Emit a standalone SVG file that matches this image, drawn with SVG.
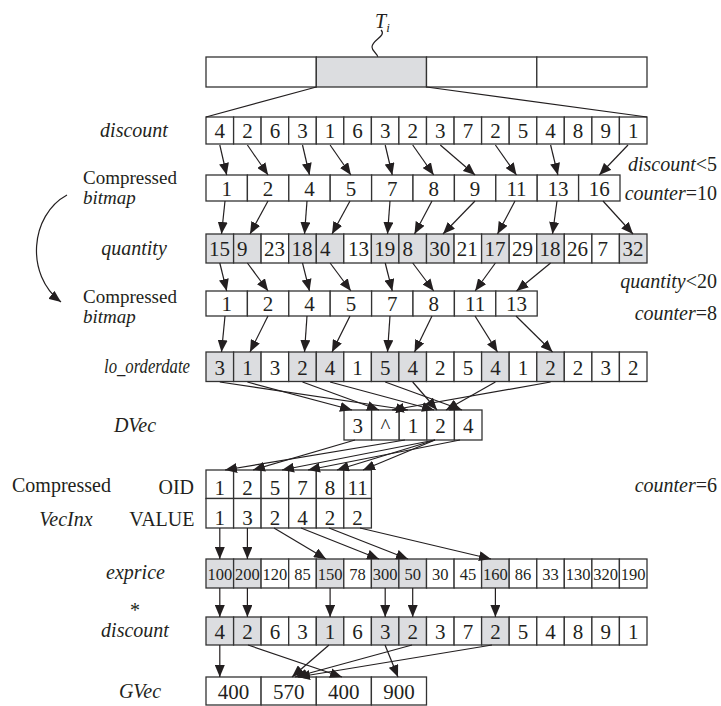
<svg xmlns="http://www.w3.org/2000/svg" width="721" height="706" viewBox="0 0 721 706">
<style>
.c{fill:#fff;stroke:#333;stroke-width:1.3}
.g{fill:#dcdde0;stroke:#333;stroke-width:1.3}
.n{font-family:"Liberation Serif","Times New Roman",serif;font-size:21px;fill:#231f20;text-anchor:middle}
.s{font-family:"Liberation Serif","Times New Roman",serif;font-size:21px;fill:#231f20}
.e{font-family:"Liberation Serif","Times New Roman",serif;font-size:16.5px;fill:#231f20;text-anchor:middle}
.t{font-family:"Liberation Serif","Times New Roman",serif;font-size:20px;fill:#231f20}
.cb{font-size:19px}
.i{font-style:italic}
.a{stroke:#231f20;stroke-width:1.2;fill:none;marker-end:url(#ah)}
.p{stroke:#231f20;stroke-width:1.2;fill:none}
</style>
<defs>
<marker id="ah" markerUnits="userSpaceOnUse" markerWidth="12" markerHeight="10" viewBox="0 0 12 10" refX="12" refY="5" orient="auto">
<path d="M0,0 L12,5 L0,10 z" fill="#231f20"/>
</marker>
</defs>
<rect width="721" height="706" fill="#fff"/>

<g id="ti">
<text class="t i" x="375" y="28" font-size="21">T<tspan font-size="13" dy="4">i</tspan></text>
<path class="p" d="M381 30 C387 36,372 40,372 47 C372 52,378 53,378 58"/>
</g>

<g id="table">
<rect class="c" x="206" y="57" width="110.3" height="30"/>
<rect class="g" x="316.3" y="57" width="110.2" height="30"/>
<rect class="c" x="426.5" y="57" width="110.3" height="30"/>
<rect class="c" x="536.8" y="57" width="110.2" height="30"/>
</g>

<g id="labels-left">
<text class="t i" x="134" y="137" text-anchor="middle">discount</text>
<text class="t cb" x="83" y="184">Compressed</text>
<text class="t cb i" x="83" y="204">bitmap</text>
<text class="t i" x="134" y="255" text-anchor="middle">quantity</text>
<text class="t cb" x="83" y="303">Compressed</text>
<text class="t cb i" x="83" y="323">bitmap</text>
<text class="t i" x="147" y="373" text-anchor="middle" textLength="86" lengthAdjust="spacingAndGlyphs">lo_orderdate</text>
<text class="t i" x="135" y="432" text-anchor="middle">DVec</text>
<text class="t" x="12" y="492">Compressed</text>
<text class="t" x="194" y="494" text-anchor="end">OID</text>
<text class="t i" x="66" y="526" text-anchor="middle">VecInx</text>
<text class="t" x="194.5" y="526" text-anchor="end">VALUE</text>
<text class="t i" x="135.5" y="579" text-anchor="middle">exprice</text>
<text class="t" x="135" y="617" text-anchor="middle">*</text>
<text class="t i" x="135" y="637" text-anchor="middle">discount</text>
<text class="t i" x="140" y="698" text-anchor="middle">GVec</text>
</g>

<g id="labels-right">
<text class="t" x="717" y="171" text-anchor="end"><tspan class="i">discount</tspan>&lt;5</text>
<text class="t" x="717" y="200" text-anchor="end"><tspan class="i">counter</tspan>=10</text>
<text class="t" x="717" y="288" text-anchor="end"><tspan class="i">quantity</tspan>&lt;20</text>
<text class="t" x="717" y="320" text-anchor="end"><tspan class="i">counter</tspan>=8</text>
<text class="t" x="717" y="492" text-anchor="end"><tspan class="i">counter</tspan>=6</text>
</g>

<g id="discount">
<rect class="c" x="206" y="117" width="27.6" height="27"/><rect class="c" x="233.6" y="117" width="27.5" height="27"/><rect class="c" x="261.1" y="117" width="27.6" height="27"/><rect class="c" x="288.7" y="117" width="27.6" height="27"/><rect class="c" x="316.3" y="117" width="27.5" height="27"/><rect class="c" x="343.8" y="117" width="27.6" height="27"/><rect class="c" x="371.4" y="117" width="27.5" height="27"/><rect class="c" x="398.9" y="117" width="27.6" height="27"/><rect class="c" x="426.5" y="117" width="27.6" height="27"/><rect class="c" x="454.1" y="117" width="27.5" height="27"/><rect class="c" x="481.6" y="117" width="27.6" height="27"/><rect class="c" x="509.2" y="117" width="27.6" height="27"/><rect class="c" x="536.8" y="117" width="27.5" height="27"/><rect class="c" x="564.3" y="117" width="27.6" height="27"/><rect class="c" x="591.9" y="117" width="27.5" height="27"/><rect class="c" x="619.4" y="117" width="27.6" height="27"/>
<text class="n" y="138"><tspan x="219.8">4</tspan><tspan x="247.4">2</tspan><tspan x="274.9">6</tspan><tspan x="302.5">3</tspan><tspan x="330.1">1</tspan><tspan x="357.6">6</tspan><tspan x="385.2">3</tspan><tspan x="412.7">2</tspan><tspan x="440.3">3</tspan><tspan x="467.9">7</tspan><tspan x="495.4">2</tspan><tspan x="523">5</tspan><tspan x="550.6">4</tspan><tspan x="578.1">8</tspan><tspan x="605.7">9</tspan><tspan x="633.2">1</tspan></text>
</g>

<g id="bitmap1">
<rect class="c" x="206" y="175" width="41.4" height="26"/><rect class="c" x="247.4" y="175" width="41.4" height="26"/><rect class="c" x="288.8" y="175" width="41.4" height="26"/><rect class="c" x="330.2" y="175" width="41.4" height="26"/><rect class="c" x="371.6" y="175" width="41.4" height="26"/><rect class="c" x="413" y="175" width="41.4" height="26"/><rect class="c" x="454.4" y="175" width="41.4" height="26"/><rect class="c" x="495.8" y="175" width="41.4" height="26"/><rect class="c" x="537.2" y="175" width="41.4" height="26"/><rect class="c" x="578.6" y="175" width="41.4" height="26"/>
<text class="n" y="195.5"><tspan x="226.7">1</tspan><tspan x="268.1">2</tspan><tspan x="309.5">4</tspan><tspan x="350.9">5</tspan><tspan x="392.3">7</tspan><tspan x="433.7">8</tspan><tspan x="475.1">9</tspan><tspan x="516.5">11</tspan><tspan x="557.9">13</tspan><tspan x="599.3">16</tspan></text>
</g>

<g id="quantity">
<rect class="g" x="206" y="234" width="27.6" height="29"/><rect class="g" x="233.6" y="234" width="27.5" height="29"/><rect class="c" x="261.1" y="234" width="27.6" height="29"/><rect class="g" x="288.7" y="234" width="27.6" height="29"/><rect class="g" x="316.3" y="234" width="27.5" height="29"/><rect class="c" x="343.8" y="234" width="27.6" height="29"/><rect class="g" x="371.4" y="234" width="27.5" height="29"/><rect class="g" x="398.9" y="234" width="27.6" height="29"/><rect class="g" x="426.5" y="234" width="27.6" height="29"/><rect class="c" x="454.1" y="234" width="27.5" height="29"/><rect class="g" x="481.6" y="234" width="27.6" height="29"/><rect class="c" x="509.2" y="234" width="27.6" height="29"/><rect class="g" x="536.8" y="234" width="27.5" height="29"/><rect class="c" x="564.3" y="234" width="27.6" height="29"/><rect class="c" x="591.9" y="234" width="27.5" height="29"/><rect class="g" x="619.4" y="234" width="27.6" height="29"/>
<text class="s" y="256"><tspan x="209">15</tspan><tspan x="237">9</tspan><tspan x="264">23</tspan><tspan x="291.5">18</tspan><tspan x="320">4</tspan><tspan x="348">13</tspan><tspan x="374.2">19</tspan><tspan x="402.5">8</tspan><tspan x="429.3">30</tspan><tspan x="456.8">21</tspan><tspan x="484.4">17</tspan><tspan x="512">29</tspan><tspan x="539.6">18</tspan><tspan x="567.1">26</tspan><tspan x="597.5">7</tspan><tspan x="622.4">32</tspan></text>
</g>

<g id="bitmap2">
<rect class="c" x="206" y="291" width="41.4" height="25"/><rect class="c" x="247.4" y="291" width="41.4" height="25"/><rect class="c" x="288.8" y="291" width="41.4" height="25"/><rect class="c" x="330.2" y="291" width="41.4" height="25"/><rect class="c" x="371.6" y="291" width="41.4" height="25"/><rect class="c" x="413" y="291" width="41.4" height="25"/><rect class="c" x="454.4" y="291" width="41.4" height="25"/><rect class="c" x="495.8" y="291" width="41.4" height="25"/>
<text class="n" y="311"><tspan x="226.7">1</tspan><tspan x="268.1">2</tspan><tspan x="309.5">4</tspan><tspan x="350.9">5</tspan><tspan x="392.3">7</tspan><tspan x="433.7">8</tspan><tspan x="475.1">11</tspan><tspan x="516.5">13</tspan></text>
</g>

<g id="lo_orderdate">
<rect class="g" x="206" y="352" width="27.6" height="29.5"/><rect class="g" x="233.6" y="352" width="27.5" height="29.5"/><rect class="c" x="261.1" y="352" width="27.6" height="29.5"/><rect class="g" x="288.7" y="352" width="27.6" height="29.5"/><rect class="g" x="316.3" y="352" width="27.5" height="29.5"/><rect class="c" x="343.8" y="352" width="27.6" height="29.5"/><rect class="g" x="371.4" y="352" width="27.5" height="29.5"/><rect class="g" x="398.9" y="352" width="27.6" height="29.5"/><rect class="c" x="426.5" y="352" width="27.6" height="29.5"/><rect class="c" x="454.1" y="352" width="27.5" height="29.5"/><rect class="g" x="481.6" y="352" width="27.6" height="29.5"/><rect class="c" x="509.2" y="352" width="27.6" height="29.5"/><rect class="g" x="536.8" y="352" width="27.5" height="29.5"/><rect class="c" x="564.3" y="352" width="27.6" height="29.5"/><rect class="c" x="591.9" y="352" width="27.5" height="29.5"/><rect class="c" x="619.4" y="352" width="27.6" height="29.5"/>
<text class="n" y="374.5"><tspan x="219.8">3</tspan><tspan x="247.4">1</tspan><tspan x="274.9">3</tspan><tspan x="302.5">2</tspan><tspan x="330.1">4</tspan><tspan x="357.6">1</tspan><tspan x="385.2">5</tspan><tspan x="412.7">4</tspan><tspan x="440.3">2</tspan><tspan x="467.9">5</tspan><tspan x="495.4">4</tspan><tspan x="523">1</tspan><tspan x="550.6">2</tspan><tspan x="578.1">2</tspan><tspan x="605.7">3</tspan><tspan x="633.2">2</tspan></text>
</g>

<g id="dvec">
<rect class="c" x="344" y="410" width="27.6" height="30"/><rect class="c" x="371.6" y="410" width="27.6" height="30"/><rect class="c" x="399.2" y="410" width="27.6" height="30"/><rect class="c" x="426.8" y="410" width="27.6" height="30"/><rect class="c" x="454.4" y="410" width="27.6" height="30"/>
<text class="n" y="433"><tspan x="357.8">3</tspan><tspan x="385.4">^</tspan><tspan x="413">1</tspan><tspan x="440.6">2</tspan><tspan x="468.2">4</tspan></text>
</g>

<g id="vecinx">
<rect class="c" x="206" y="470" width="27.6" height="28.5"/><rect class="c" x="233.6" y="470" width="27.5" height="28.5"/><rect class="c" x="261.1" y="470" width="27.6" height="28.5"/><rect class="c" x="288.7" y="470" width="27.6" height="28.5"/><rect class="c" x="316.3" y="470" width="27.5" height="28.5"/><rect class="c" x="343.8" y="470" width="27.6" height="28.5"/>
<rect class="c" x="206" y="498.5" width="27.6" height="29.5"/><rect class="c" x="233.6" y="498.5" width="27.5" height="29.5"/><rect class="c" x="261.1" y="498.5" width="27.6" height="29.5"/><rect class="c" x="288.7" y="498.5" width="27.6" height="29.5"/><rect class="c" x="316.3" y="498.5" width="27.5" height="29.5"/><rect class="c" x="343.8" y="498.5" width="27.6" height="29.5"/>
<text class="n" y="494.5"><tspan x="219.8">1</tspan><tspan x="247.4">2</tspan><tspan x="274.9">5</tspan><tspan x="302.5">7</tspan><tspan x="330.1">8</tspan><tspan x="357.6">11</tspan></text>
<text class="n" y="525"><tspan x="219.8">1</tspan><tspan x="247.4">3</tspan><tspan x="274.9">2</tspan><tspan x="302.5">4</tspan><tspan x="330.1">2</tspan><tspan x="357.6">2</tspan></text>
</g>

<g id="exprice">
<rect class="g" x="206" y="559" width="27.6" height="29"/><rect class="g" x="233.6" y="559" width="27.5" height="29"/><rect class="c" x="261.1" y="559" width="27.6" height="29"/><rect class="c" x="288.7" y="559" width="27.6" height="29"/><rect class="g" x="316.3" y="559" width="27.5" height="29"/><rect class="c" x="343.8" y="559" width="27.6" height="29"/><rect class="g" x="371.4" y="559" width="27.5" height="29"/><rect class="g" x="398.9" y="559" width="27.6" height="29"/><rect class="c" x="426.5" y="559" width="27.6" height="29"/><rect class="c" x="454.1" y="559" width="27.5" height="29"/><rect class="g" x="481.6" y="559" width="27.6" height="29"/><rect class="c" x="509.2" y="559" width="27.6" height="29"/><rect class="c" x="536.8" y="559" width="27.5" height="29"/><rect class="c" x="564.3" y="559" width="27.6" height="29"/><rect class="c" x="591.9" y="559" width="27.5" height="29"/><rect class="c" x="619.4" y="559" width="27.6" height="29"/>
<text class="e" y="580"><tspan x="219.8">100</tspan><tspan x="247.4">200</tspan><tspan x="274.9">120</tspan><tspan x="302.5">85</tspan><tspan x="330.1">150</tspan><tspan x="357.6">78</tspan><tspan x="385.2">300</tspan><tspan x="412.7">50</tspan><tspan x="440.3">30</tspan><tspan x="467.9">45</tspan><tspan x="495.4">160</tspan><tspan x="523">86</tspan><tspan x="550.6">33</tspan><tspan x="578.1">130</tspan><tspan x="605.7">320</tspan><tspan x="633.2">190</tspan></text>
</g>

<g id="discount2">
<rect class="g" x="206" y="617" width="27.6" height="28"/><rect class="g" x="233.6" y="617" width="27.5" height="28"/><rect class="c" x="261.1" y="617" width="27.6" height="28"/><rect class="c" x="288.7" y="617" width="27.6" height="28"/><rect class="g" x="316.3" y="617" width="27.5" height="28"/><rect class="c" x="343.8" y="617" width="27.6" height="28"/><rect class="g" x="371.4" y="617" width="27.5" height="28"/><rect class="g" x="398.9" y="617" width="27.6" height="28"/><rect class="c" x="426.5" y="617" width="27.6" height="28"/><rect class="c" x="454.1" y="617" width="27.5" height="28"/><rect class="g" x="481.6" y="617" width="27.6" height="28"/><rect class="c" x="509.2" y="617" width="27.6" height="28"/><rect class="c" x="536.8" y="617" width="27.5" height="28"/><rect class="c" x="564.3" y="617" width="27.6" height="28"/><rect class="c" x="591.9" y="617" width="27.5" height="28"/><rect class="c" x="619.4" y="617" width="27.6" height="28"/>
<text class="n" y="639"><tspan x="219.8">4</tspan><tspan x="247.4">2</tspan><tspan x="274.9">6</tspan><tspan x="302.5">3</tspan><tspan x="330.1">1</tspan><tspan x="357.6">6</tspan><tspan x="385.2">3</tspan><tspan x="412.7">2</tspan><tspan x="440.3">3</tspan><tspan x="467.9">7</tspan><tspan x="495.4">2</tspan><tspan x="523">5</tspan><tspan x="550.6">4</tspan><tspan x="578.1">8</tspan><tspan x="605.7">9</tspan><tspan x="633.2">1</tspan></text>
</g>

<g id="gvec">
<rect class="c" x="206" y="677" width="55.1" height="28"/><rect class="c" x="261.1" y="677" width="55.2" height="28"/><rect class="c" x="316.3" y="677" width="55.1" height="28"/><rect class="c" x="371.4" y="677" width="55.1" height="28"/>
<text class="n" y="698.5"><tspan x="233.6">400</tspan><tspan x="288.7">570</tspan><tspan x="343.8">400</tspan><tspan x="399">900</tspan></text>
</g>

<g id="connectors">
<path class="p" d="M316.3 87 L206 117 M426.5 87 L647 117"/>
<path class="a" d="M67 195 C30 215,25 275,61 302"/>
<path class="a" d="M219.8 145 L226.7 175"/>
<path class="a" d="M247.4 145 L268.1 175"/>
<path class="a" d="M302.5 145 L309.5 175"/>
<path class="a" d="M330.1 145 L350.9 175"/>
<path class="a" d="M385.2 145 L392.3 175"/>
<path class="a" d="M412.7 145 L433.7 175"/>
<path class="a" d="M440.3 145 L475.1 175"/>
<path class="a" d="M495.4 145 L516.5 175"/>
<path class="a" d="M550.6 145 L557.9 175"/>
<path class="a" d="M628 145 L599.3 175"/>
<path class="a" d="M225 201 L221.5 234"/>
<path class="a" d="M268 201 L250 234"/>
<path class="a" d="M307 201 L304.5 234"/>
<path class="a" d="M350 201 L332 234"/>
<path class="a" d="M390 201 L387.5 234"/>
<path class="a" d="M432 201 L414.5 234"/>
<path class="a" d="M475 201 L443 234"/>
<path class="a" d="M515 201 L497.5 234"/>
<path class="a" d="M557 201 L552.5 234"/>
<path class="a" d="M603 201 L633 234"/>
<path class="a" d="M219.8 263 L226.7 291"/>
<path class="a" d="M247.4 263 L268.1 291"/>
<path class="a" d="M302.5 263 L309.5 291"/>
<path class="a" d="M330.1 263 L350.9 291"/>
<path class="a" d="M385.2 263 L392.3 291"/>
<path class="a" d="M412.7 263 L433.7 291"/>
<path class="a" d="M495.4 263 L475.1 291"/>
<path class="a" d="M550.6 263 L516.5 291"/>
<path class="a" d="M225 316 L221.5 352"/>
<path class="a" d="M268 316 L250 352"/>
<path class="a" d="M307 316 L304.5 352"/>
<path class="a" d="M350 316 L332 352"/>
<path class="a" d="M390 316 L387.5 352"/>
<path class="a" d="M432 316 L414.5 352"/>
<path class="a" d="M475 316 L497.5 352"/>
<path class="a" d="M516 316 L552.5 352"/>
<path class="a" d="M219.8 382 L408 410"/>
<path class="a" d="M247.4 382 L352 410"/>
<path class="a" d="M302.5 382 L379 410"/>
<path class="a" d="M330.1 382 L434 410"/>
<path class="a" d="M385.2 382 L462 410"/>
<path class="a" d="M412.7 382 L437 410"/>
<path class="a" d="M495.4 382 L446 410"/>
<path class="a" d="M550.6 382 L392 410"/>
<path class="a" d="M405 440 L225 470"/>
<path class="a" d="M355 440 L253 470"/>
<path class="a" d="M435 440 L282 470"/>
<path class="a" d="M460 440 L308 470"/>
<path class="a" d="M435 440 L337 470"/>
<path class="a" d="M435 440 L363 470"/>
<path class="a" d="M219.8 528 L219.8 559"/>
<path class="a" d="M247.4 528 L247.4 559"/>
<path class="a" d="M274 528 L326 559"/>
<path class="a" d="M301 528 L379 559"/>
<path class="a" d="M329 528 L408 559"/>
<path class="a" d="M360 528 L491 559"/>
<path class="a" d="M219.8 588 L219.8 617"/>
<path class="a" d="M247.4 588 L247.4 617"/>
<path class="a" d="M330.1 588 L330.1 617"/>
<path class="a" d="M385.2 588 L385.2 617"/>
<path class="a" d="M412.7 588 L412.7 617"/>
<path class="a" d="M495.4 588 L495.4 617"/>
<path class="a" d="M219.8 645 L219.8 677"/>
<path class="a" d="M248 645 L342 677"/>
<path class="a" d="M329 645 L292 677"/>
<path class="a" d="M385 645 L398 677"/>
<path class="a" d="M412 645 L295 677"/>
<path class="a" d="M492 645 L298 677"/>
</g>
</svg>
